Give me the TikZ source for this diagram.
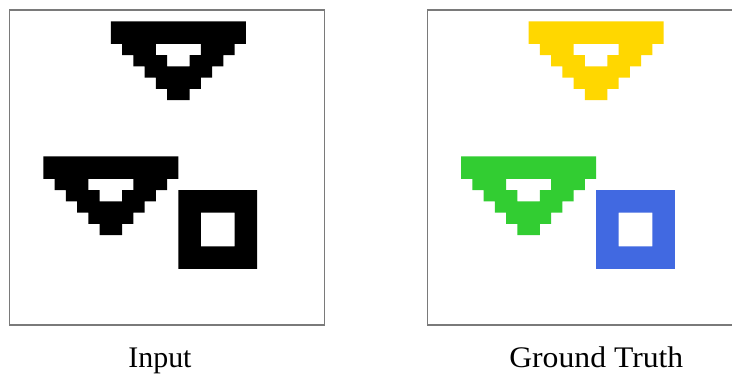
\documentclass[tikz,border=0pt]{standalone}
\usepackage{graphicx}
\usepackage{fontspec}
\setmainfont{Liberation Serif}
\definecolor{gold}{HTML}{FFD700}
\definecolor{lime}{HTML}{32CD32}
\definecolor{royal}{HTML}{4169E1}
\definecolor{framegray}{HTML}{7A7A7A}
\tikzset{
  panel/.style={draw=framegray, line width=1.2bp},
  lbl/.style={font=\fontsize{30}{36}\selectfont, anchor=base, inner sep=0pt},
  tri/.pic={\fill[#1, even odd rule]
    (0,0) -- (12,0) -- (12,2) -- (11,2) -- (11,3) -- (10,3) -- (10,4) -- (9,4)
    -- (9,5) -- (8,5) -- (8,6) -- (7,6) -- (7,7) -- (5,7) -- (5,6) -- (4,6)
    -- (4,5) -- (3,5) -- (3,4) -- (2,4) -- (2,3) -- (1,3) -- (1,2) -- (0,2) -- cycle
    (4,2) -- (8,2) -- (8,3) -- (7,3) -- (7,4) -- (5,4) -- (5,3) -- (4,3) -- cycle;},
  sq/.pic={\fill[#1, even odd rule] (0,0) rectangle (7,7) (2,2) rectangle (5,5);},
}
\begin{document}
\begin{tikzpicture}[x=1bp,y=-1bp]
\useasboundingbox (0,0) rectangle (732,375);
\clip (0,0) rectangle (732,375);
\fill[white] (0,0) rectangle (732,375);
% Input panel
\begin{scope}[shift={(9.7,10)}, x=11.25bp, y=-11.25bp]
  \draw[panel] (0,0) rectangle (28,28);
  \pic at (9,1) {tri=black};
  \pic at (3,13) {tri=black};
  \pic at (15,16) {sq=black};
\end{scope}
% Ground truth panel
\begin{scope}[shift={(427.3,10)}, x=11.25bp, y=-11.25bp]
  \draw[panel] (0,0) rectangle (28,28);
  \pic at (9,1) {tri=gold};
  \pic at (3,13) {tri=lime};
  \pic at (15,16) {sq=royal};
\end{scope}
\node[lbl] (input) at (160,367.7) {Input};
\node[lbl] (truth) at (596.3,367.7) {\scalebox{1.06}[1]{Ground Truth}};
\end{tikzpicture}
\end{document}
